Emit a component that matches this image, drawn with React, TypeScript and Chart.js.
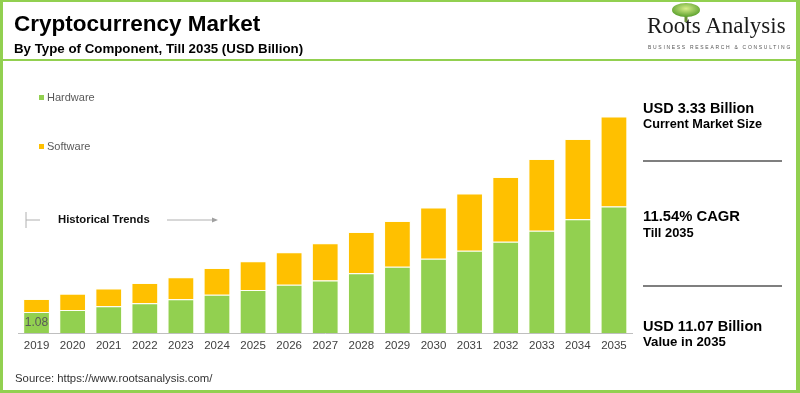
import React, { useEffect, useRef } from "react";
import { Chart, registerables } from "chart.js";

Chart.register(...registerables);

const years = ["2019", "2020", "2021", "2022", "2023", "2024", "2025", "2026", "2027", "2028", "2029", "2030", "2031", "2032", "2033", "2034", "2035"];
const hardware = [1.08, 1.19, 1.38, 1.53, 1.74, 1.96, 2.21, 2.47, 2.69, 3.07, 3.39, 3.8, 4.21, 4.67, 5.23, 5.83, 6.48];
const software = [0.67, 0.82, 0.9, 1.03, 1.12, 1.37, 1.47, 1.67, 1.91, 2.1, 2.35, 2.62, 2.93, 3.31, 3.67, 4.09, 4.59];
const seriesNames = ["Hardware", "Software"];
const seriesColors = ["#92D050", "#FFC000"];
const labelledIndex = 0;

const titleText = "Cryptocurrency Market";
const subtitleText = "By Type of Component, Till 2035 (USD Billion)";
const sourceText = "Source: https://www.rootsanalysis.com/";
const historicalText = "Historical Trends";
const panelTexts = [
  ["USD 3.33 Billion", "Current Market Size"],
  ["11.54% CAGR", "Till 2035"],
  ["USD 11.07 Billion", "Value in 2035"],
];

const SANS = '"Liberation Sans", Arial, Helvetica, sans-serif';
const GREEN = "#92D050";

const valueLabelPlugin = {
  id: "valueLabel",
  afterDatasetsDraw(chart: any) {
    const meta = chart.getDatasetMeta(0);
    const el = meta.data[labelledIndex];
    if (!el) return;
    const ctx = chart.ctx;
    ctx.save();
    ctx.font = `12px ${SANS}`;
    ctx.fillStyle = "#595959";
    ctx.textAlign = "center";
    ctx.textBaseline = "middle";
    ctx.fillText(hardware[labelledIndex].toFixed(2), el.x, (el.y + el.base) / 2 + 0.5);
    ctx.restore();
  },
};

function Txt(props: { x: number; cy: number; fs: number; bold?: boolean; color?: string; children: React.ReactNode; family?: string; ls?: number }) {
  const { x, cy, fs, bold, color, children, family, ls } = props;
  return (
    <div
      style={{
        position: "absolute",
        left: x,
        top: cy - fs / 2,
        fontSize: fs,
        lineHeight: `${fs}px`,
        fontWeight: bold ? 700 : 400,
        color: color || "#000",
        whiteSpace: "nowrap",
        fontFamily: family || SANS,
        letterSpacing: ls ? `${ls}px` : undefined,
      }}
    >
      {children}
    </div>
  );
}

export default function App() {
  const ref = useRef<HTMLCanvasElement>(null);

  useEffect(() => {
    document.body.style.margin = "0";
    const chart = new Chart(ref.current as HTMLCanvasElement, {
      type: "bar",
      data: {
        labels: years,
        datasets: [
          {
            label: seriesNames[0],
            data: hardware,
            backgroundColor: seriesColors[0],
            borderColor: "rgba(255,255,240,0.75)",
            borderWidth: 1,
            barPercentage: 0.74,
            categoryPercentage: 1,
          },
          {
            label: seriesNames[1],
            data: software,
            backgroundColor: seriesColors[1],
            borderColor: "rgba(255,255,240,0.75)",
            borderWidth: 1,
            barPercentage: 0.74,
            categoryPercentage: 1,
          },
        ],
      },
      options: {
        responsive: false,
        animation: false,
        layout: { padding: { left: 18.5, right: 168, top: 98.4, bottom: 34 } },
        plugins: { legend: { display: false }, tooltip: { enabled: false }, title: { display: false } },
        scales: {
          x: {
            stacked: true,
            grid: { display: false, drawTicks: false },
            border: { display: true, color: "#bfbfbf", width: 1 },
            ticks: { color: "#404040", font: { family: SANS, size: 11.5 }, padding: 6, maxRotation: 0, autoSkip: false },
          },
          y: { stacked: true, display: false, min: 0, max: 12 },
        },
      },
      plugins: [valueLabelPlugin],
    });
    return () => chart.destroy();
  }, []);

  return (
    <div style={{ position: "absolute", left: 0, top: 0, width: 800, height: 393, background: "#fff", overflow: "hidden", fontFamily: SANS }}>
      <canvas ref={ref} width={800} height={393} style={{ position: "absolute", left: 0, top: 0, width: 800, height: 393 }} />

      {/* title */}
      <Txt x={14} cy={24.5} fs={22.5} bold color="#000">{titleText}</Txt>
      <Txt x={14} cy={48.3} fs={13.3} bold color="#000">{subtitleText}</Txt>
      <div style={{ position: "absolute", left: 0, top: 58.5, width: 800, height: 2, background: GREEN }} />

      {/* logo */}
      <svg style={{ position: "absolute", left: 668, top: 1 }} width={36} height={24}>
        <defs>
          <radialGradient id="tg" cx="50%" cy="40%" r="60%">
            <stop offset="0%" stopColor="#d7ee8a" />
            <stop offset="100%" stopColor="#5aa02c" />
          </radialGradient>
        </defs>
        <rect x={16.5} y={10} width={3} height={11} fill="#6b8e3a" />
        <ellipse cx={18} cy={9} rx={14} ry={7} fill="url(#tg)" />
      </svg>
      <Txt x={647} cy={25} fs={23} color="#1a1a1a" family='"Liberation Serif", "Times New Roman", serif'>Roots Analysis</Txt>
      <Txt x={648} cy={47} fs={5} color="#555" ls={1.7}>BUSINESS RESEARCH &amp; CONSULTING</Txt>

      {/* legend */}
      {seriesNames.map((n, i) => (
        <React.Fragment key={n}>
          <div style={{ position: "absolute", left: 39, top: (i === 0 ? 97.7 : 146.7) - 2.5, width: 5, height: 5, background: seriesColors[i] }} />
          <Txt x={47} cy={i === 0 ? 97.7 : 146.7} fs={11} color="#595959">{n}</Txt>
        </React.Fragment>
      ))}

      {/* historical trends */}
      <svg style={{ position: "absolute", left: 0, top: 205 }} width={230} height={30}>
        <line x1={26} y1={7} x2={26} y2={23} stroke="#b0b0b0" strokeWidth={1} />
        <line x1={26} y1={15} x2={40} y2={15} stroke="#b0b0b0" strokeWidth={1} />
        <line x1={167} y1={15} x2={214} y2={15} stroke="#b0b0b0" strokeWidth={1} />
        <polygon points="218,15 212,12.5 212,17.5" fill="#a0a0a0" />
      </svg>
      <Txt x={58} cy={220} fs={11.3} bold color="#111">{historicalText}</Txt>

      {/* right panel */}
      <Txt x={643} cy={108} fs={14.5} bold>{panelTexts[0][0]}</Txt>
      <Txt x={643} cy={124.5} fs={12.7} bold>{panelTexts[0][1]}</Txt>
      <div style={{ position: "absolute", left: 643, top: 159.7, width: 139, height: 2, background: "#7f7f7f" }} />
      <Txt x={643} cy={216.7} fs={14.8} bold>{panelTexts[1][0]}</Txt>
      <Txt x={643} cy={233.5} fs={12.9} bold>{panelTexts[1][1]}</Txt>
      <div style={{ position: "absolute", left: 643, top: 285, width: 139, height: 2, background: "#7f7f7f" }} />
      <Txt x={643} cy={326} fs={14.6} bold>{panelTexts[2][0]}</Txt>
      <Txt x={643} cy={342} fs={13.2} bold>{panelTexts[2][1]}</Txt>

      {/* source */}
      <Txt x={15} cy={378.3} fs={11.35} color="#333">{sourceText}</Txt>

      {/* frame */}
      <div style={{ position: "absolute", left: 0, top: 0, width: 800, height: 393, boxSizing: "border-box", borderTop: `2px solid ${GREEN}`, borderLeft: `3px solid ${GREEN}`, borderRight: `4px solid ${GREEN}`, borderBottom: `3px solid ${GREEN}`, pointerEvents: "none" }} />
    </div>
  );
}
